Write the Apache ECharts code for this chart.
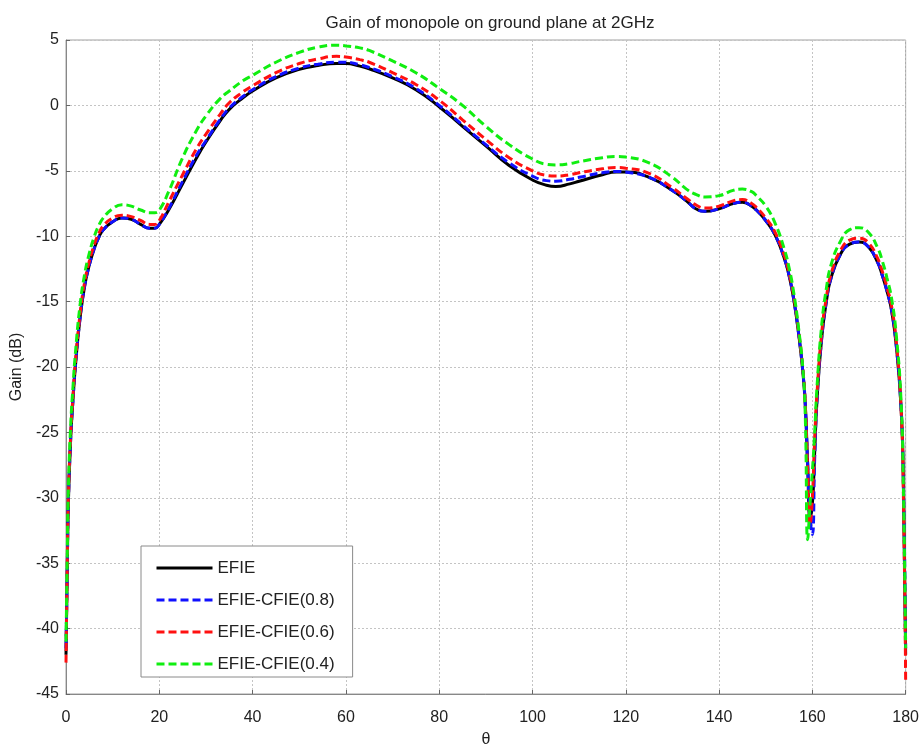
<!DOCTYPE html>
<html>
<head>
<meta charset="utf-8">
<script src="https://cdn.jsdelivr.net/npm/echarts@6/dist/echarts.min.js"></script>
<style>html,body{margin:0;padding:0;background:#fff;}#c{width:922px;height:753px;}</style>
</head>
<body>
<div id="c"></div>
<script>
var theta = [0,0.25,0.5,1,1.5,2,3,4,5,6,7,8,10,12,14,16,18,19,20,22,25,28,30,33,35,38,40,45,50,54,58,60,63,65,70,75,80,85,90,95,100,103,105,108,110,115,118,120,125,130,133,135,137,140,143,145,147,148,150,152,154,155,156,157,158,158.5,159,159.5,160,160.5,161,162,163,164,166,168,170,172,174,175,176,177,178,179,179.5,180];

var efie = [-42,-36,-30.5,-25.5,-22.5,-20,-16.3,-13.8,-12.2,-11,-10.1,-9.5,-8.9,-8.6,-8.7,-9.1,-9.4,-9.4,-9.1,-8.0,-6.0,-4.0,-2.8,-1.2,-0.3,0.6,1.1,2.1,2.75,3.05,3.2,3.2,3.0,2.8,2.1,1.2,-0.1,-1.6,-3.1,-4.6,-5.7,-6.1,-6.2,-6.0,-5.8,-5.3,-5.1,-5.1,-5.5,-6.5,-7.3,-7.9,-8.1,-7.9,-7.5,-7.4,-7.7,-8.0,-8.8,-9.9,-11.7,-13.0,-14.8,-17.3,-20.5,-23,-27.5,-31.5,-30.5,-26.5,-22.5,-17.8,-15.0,-13.2,-11.4,-10.6,-10.45,-10.8,-12.0,-13.0,-14.2,-15.7,-18.4,-23,-28.5,-42];

var cfie08 = [-41.5,-36,-30.5,-25.5,-22.5,-20,-16.3,-13.8,-12.2,-11,-10.1,-9.5,-8.9,-8.6,-8.7,-9.1,-9.4,-9.4,-9.1,-7.9,-5.8,-3.8,-2.7,-1.1,-0.2,0.7,1.2,2.2,2.85,3.15,3.3,3.3,3.1,2.9,2.2,1.3,0.0,-1.5,-3.0,-4.4,-5.4,-5.75,-5.8,-5.65,-5.5,-5.15,-5.05,-5.1,-5.5,-6.5,-7.3,-7.9,-8.1,-7.9,-7.5,-7.4,-7.7,-8.0,-8.8,-9.9,-11.7,-13.0,-14.8,-17.3,-20.5,-23,-27.5,-31.5,-32.8,-27,-22.5,-17.8,-15.0,-13.2,-11.4,-10.6,-10.45,-10.8,-12.0,-13.0,-14.2,-15.7,-18.4,-23,-28.5,-41.5];

var cfie06 = [-42.6,-35.8,-30.2,-25.2,-22.2,-19.7,-16,-13.5,-11.9,-10.7,-9.8,-9.2,-8.6,-8.4,-8.5,-8.8,-9.1,-9.1,-8.8,-7.4,-5.3,-3.3,-2.2,-0.7,0.2,1.05,1.5,2.5,3.2,3.55,3.75,3.7,3.5,3.3,2.5,1.6,0.4,-1.1,-2.6,-4.0,-5.0,-5.35,-5.4,-5.3,-5.15,-4.85,-4.75,-4.8,-5.2,-6.3,-7.1,-7.6,-7.85,-7.7,-7.3,-7.2,-7.5,-7.8,-8.6,-9.7,-11.5,-12.8,-14.6,-17.1,-20.3,-23,-28,-32,-30,-25.5,-22,-17.4,-14.7,-12.9,-11.1,-10.3,-10.15,-10.5,-11.7,-12.7,-13.9,-15.4,-18.1,-23,-29.5,-44];

var cfie04 = [-41,-35,-29.5,-24.5,-21.5,-19,-15.3,-12.9,-11.3,-10.1,-9.2,-8.6,-7.9,-7.6,-7.7,-8.0,-8.2,-8.2,-8.0,-6.6,-4.0,-1.9,-0.8,0.5,1.1,1.9,2.3,3.3,4.05,4.45,4.6,4.55,4.4,4.2,3.4,2.5,1.3,0.0,-1.6,-3.0,-4.1,-4.5,-4.55,-4.45,-4.3,-4.0,-3.9,-3.95,-4.4,-5.5,-6.4,-6.8,-7.0,-6.9,-6.5,-6.4,-6.6,-6.9,-7.7,-9.0,-11.0,-12.4,-14.3,-16.9,-20.3,-24,-33.2,-30.5,-28,-25,-21.5,-16.8,-14.0,-12.2,-10.4,-9.5,-9.35,-9.7,-10.9,-11.9,-13.2,-14.8,-17.6,-22.5,-29,-41.5];

var seriesNames = ['EFIE','EFIE-CFIE(0.8)','EFIE-CFIE(0.6)','EFIE-CFIE(0.4)'];
var xTicks = {min:0, max:180, interval:20};
var yTicks = {min:-45, max:5, interval:5};

function pairs(vals){ return theta.map(function(t,i){ return [t, vals[i]]; }); }

var FONT = "'Liberation Sans', Arial, Helvetica, sans-serif";
var chart = echarts.init(document.getElementById('c'), null, {renderer:'canvas'});
var gridLine = {show:true, lineStyle:{color:'#c4c4c4', width:1, type:[2,2]}};
var dashed = [8,4];

function mk(i, vals, color, type, z){
  return {name:seriesNames[i], type:'line', data:pairs(vals), symbol:'none', smooth:0.5,
    lineStyle:{color:color, width:3, type:type}, itemStyle:{color:color}, z:z};
}

chart.setOption({
  backgroundColor:'#ffffff',
  animation:false,
  title:{text:'Gain of monopole on ground plane at 2GHz', left:485, textAlign:'center', top:10,
    textStyle:{fontFamily:FONT, fontSize:17, fontWeight:'normal', color:'#222'}},
  grid:{left:66, right:16, top:40, bottom:56, show:true, borderColor:'#a0a0a0', borderWidth:1, backgroundColor:'#fff'},
  xAxis:{type:'value', min:xTicks.min, max:xTicks.max, interval:xTicks.interval,
    name:'θ', nameLocation:'middle', nameGap:38,
    nameTextStyle:{fontFamily:FONT, fontSize:16, color:'#222'},
    axisLine:{show:true, onZero:false, lineStyle:{color:'#888', width:1}},
    axisTick:{show:true, inside:true, length:4, lineStyle:{color:'#666'}},
    axisLabel:{fontFamily:FONT, fontSize:16, color:'#222', margin:16},
    splitLine:gridLine},
  yAxis:{type:'value', min:yTicks.min, max:yTicks.max, interval:yTicks.interval,
    name:'Gain (dB)', nameLocation:'middle', nameGap:41, nameRotate:90,
    nameTextStyle:{fontFamily:FONT, fontSize:16, color:'#222'},
    axisLine:{show:true, onZero:false, lineStyle:{color:'#888', width:1}},
    axisTick:{show:true, inside:true, length:4, lineStyle:{color:'#666'}},
    axisLabel:{fontFamily:FONT, fontSize:16, color:'#222', margin:7},
    splitLine:gridLine},
  legend:{orient:'vertical', left:141, top:546, itemWidth:56, itemHeight:14, itemGap:14,
    padding:[13,18,4,14], borderColor:'#8a8a8a', borderWidth:1, backgroundColor:'#fff',
    lineStyle:{width:3}, itemStyle:{opacity:0},
    textStyle:{fontFamily:FONT, fontSize:17, color:'#222', lineHeight:18},
    data:seriesNames},
  series:[
    mk(0, efie, '#000000', 'solid', 1),
    mk(1, cfie08, '#1010ff', dashed, 2),
    mk(2, cfie06, '#ff1010', dashed, 3),
    mk(3, cfie04, '#10ee10', dashed, 4)
  ]
});
</script>
</body>
</html>
